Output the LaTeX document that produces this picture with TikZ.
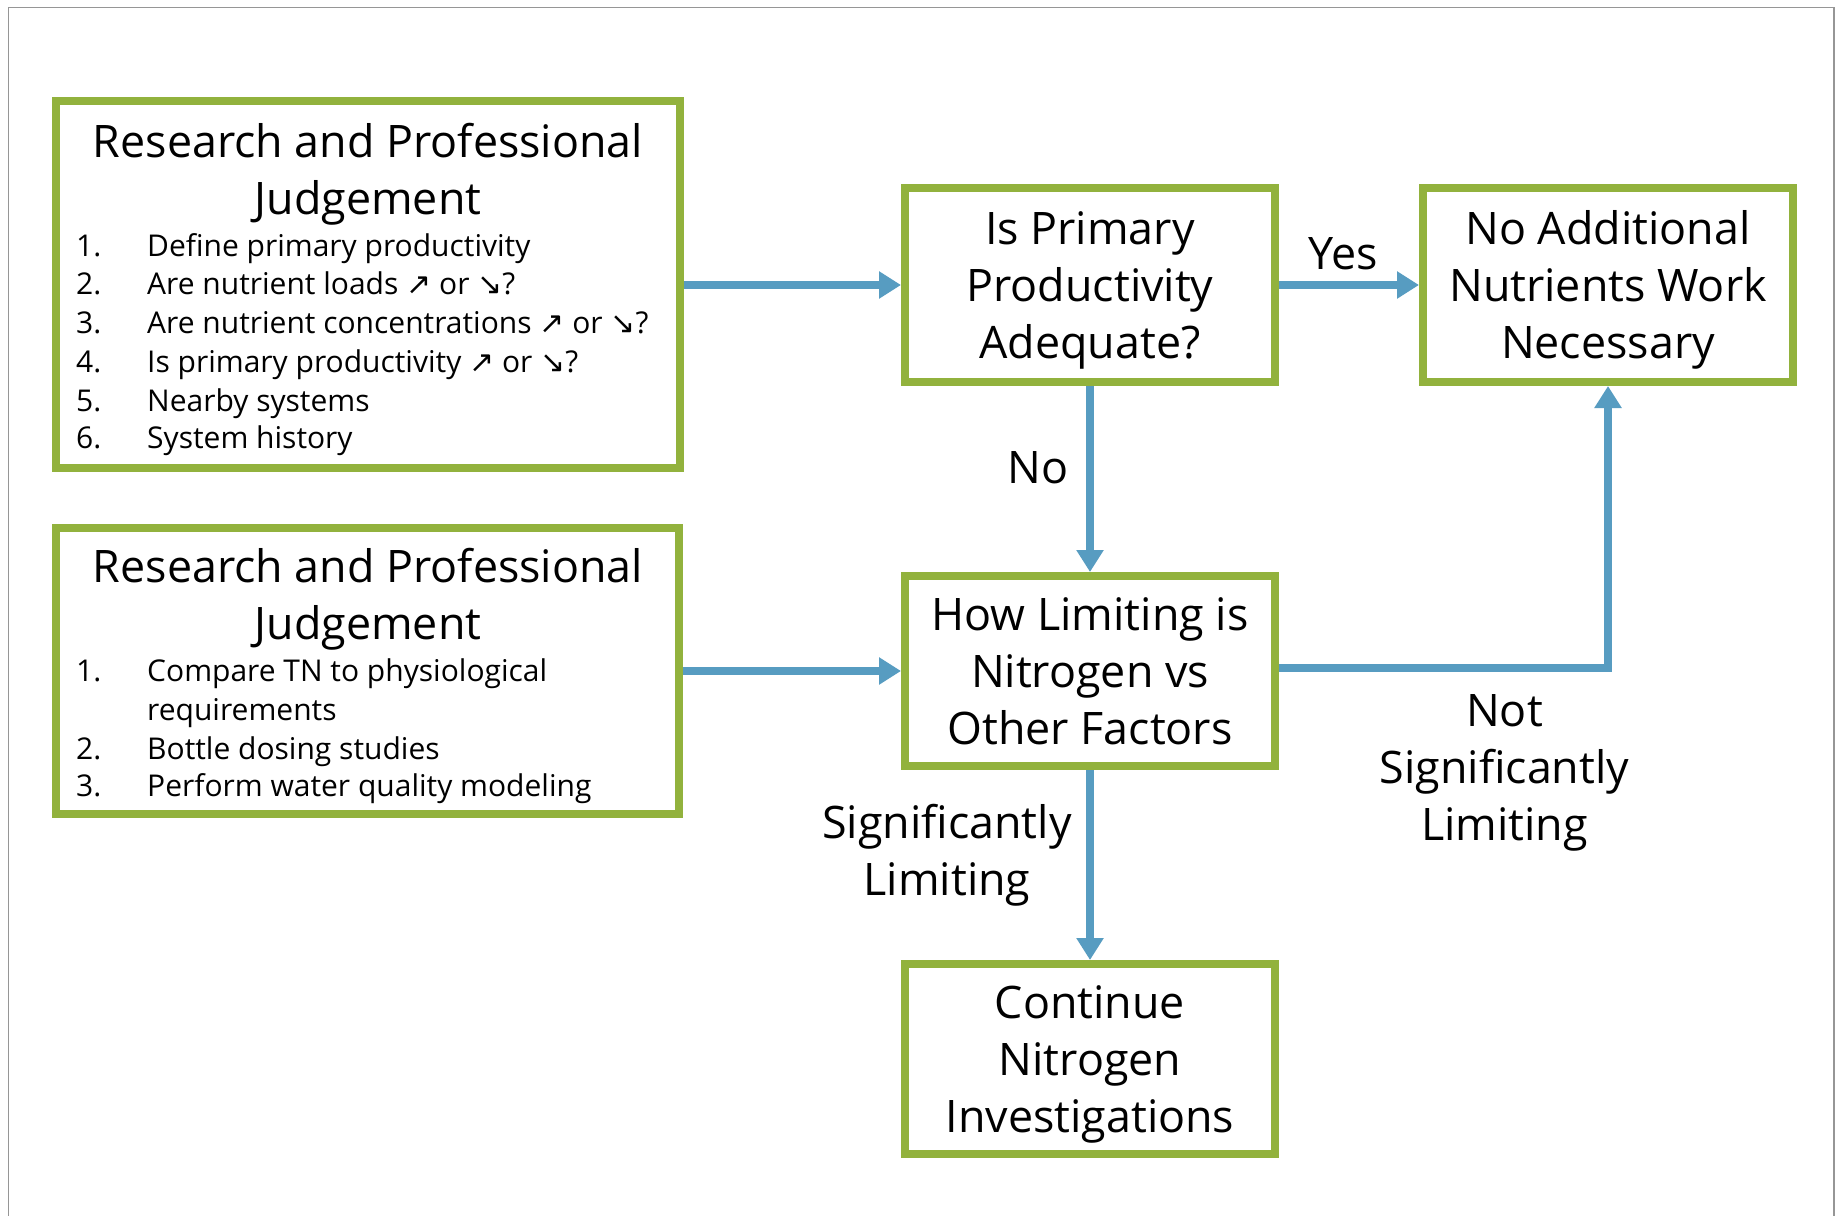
\documentclass[tikz,border=0pt]{standalone}
\usepackage{fontspec}
\setmainfont{Open Sans}
\newfontfamily\symfont{DejaVu Sans}
\usetikzlibrary{arrows.meta}
\definecolor{boxgreen}{RGB}{146,178,61}
\definecolor{flowblue}{RGB}{87,156,193}
\definecolor{framegray}{RGB}{150,150,150}
\newcommand{\up}{{\symfont ↗}}
\newcommand{\down}{{\symfont ↘}}
\newcommand{\ts}{\rule{0pt}{45pt}}
\newcommand{\bs}{\rule[-13pt]{0pt}{13pt}}
\tikzset{
  gbox/.style={draw=boxgreen, line width=8pt, fill=white, inner sep=0pt},
  bigtext/.style={font=\fontsize{44.8}{57}\selectfont, align=center, inner sep=0pt},
  itemtext/.style={font=\fontsize{30}{38.6}\selectfont, anchor=base west, inner sep=0pt},
  flow/.style={draw=flowblue, line width=8pt, -{Triangle[length=22pt,width=26pt]}},
}
\begin{document}
\begin{tikzpicture}[x=1pt,y=-1pt]
\useasboundingbox (0,0) rectangle (1843,1215);
\fill[white] (0,0) rectangle (1843,1215);
\draw[framegray, line width=1.5pt] (8.5,1216) -- (8.5,7.5) -- (1834,7.5) -- (1834,1216);

% boxes
\node[gbox, minimum width=624pt, minimum height=367pt] (A) at (368,284.5) {};
\node[gbox, minimum width=623pt, minimum height=286pt] (B) at (367.5,671) {};
\node[gbox, minimum width=370pt, minimum height=194pt, bigtext] (C) at (1090,285) {\ts Is Primary\\Productivity\\Adequate?\bs};
\node[gbox, minimum width=370pt, minimum height=194pt, bigtext] (D) at (1608,285) {\ts No Additional\\Nutrients Work\\Necessary\bs};
\node[gbox, minimum width=370pt, minimum height=190pt, bigtext] (E) at (1090,671) {\ts How Limiting is\\Nitrogen vs\\Other Factors\bs};
\node[gbox, minimum width=370pt, minimum height=190pt, bigtext] (F) at (1090,1059) {\ts Continue\\Nitrogen\\Investigations\bs};

% box A content
\node[bigtext] (At) at (368,170) {\ts Research and Professional\\Judgement\bs};
\node[itemtext] (A1n) at (76,256) {1.};
\node[itemtext] (A1) at (147,256) {Define primary productivity};
\node[itemtext] (A2n) at (76,294.5) {2.};
\node[itemtext] (A2) at (147,294.5) {Are nutrient loads \up{} or \down?};
\node[itemtext] (A3n) at (76,333.5) {3.};
\node[itemtext] (A3) at (147,333.5) {Are nutrient concentrations \up{} or \down?};
\node[itemtext] (A4n) at (76,372.5) {4.};
\node[itemtext] (A4) at (147,372.5) {Is primary productivity \up{} or \down?};
\node[itemtext] (A5n) at (76,411) {5.};
\node[itemtext] (A5) at (147,411) {Nearby systems};
\node[itemtext] (A6n) at (76,448.5) {6.};
\node[itemtext] (A6) at (147,448.5) {System history};

% box B content
\node[bigtext] (Bt) at (368,595) {\ts Research and Professional\\Judgement\bs};
\node[itemtext] (B1n) at (76,681.5) {1.};
\node[itemtext] (B1) at (147,681.5) {Compare TN to physiological};
\node[itemtext] (B1b) at (147,720.5) {requirements};
\node[itemtext] (B2n) at (76,759) {2.};
\node[itemtext] (B2) at (147,759) {Bottle dosing studies};
\node[itemtext] (B3n) at (76,796.5) {3.};
\node[itemtext] (B3) at (147,796.5) {Perform water quality modeling};

% connectors
\draw[flow] (A.east |- C.west) -- (C.west);
\draw[flow] (B.east |- E.west) -- (E.west);
\draw[flow] (C.east) -- (D.west);
\draw[flow] (C.south) -- (E.north);
\draw[flow] (E.south) -- (F.north);
\draw[flow] ([yshift=3pt]E.east) -| (D.south);

% labels
\node[bigtext] (Lyes) at (1343,253) {\ts Yes\bs};
\node[bigtext] (Lno) at (1038,467) {\ts No\bs};
\node[bigtext] (Lnot) at (1504.5,767.5) {\ts Not\\Significantly\\Limiting\bs};
\node[bigtext] (Lsig) at (947,851) {\ts Significantly\\Limiting\bs};
\end{tikzpicture}
\end{document}
